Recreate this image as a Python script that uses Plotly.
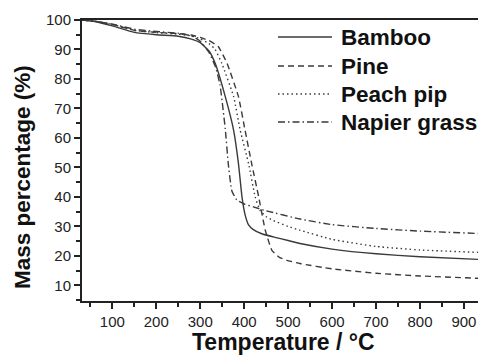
import plotly.graph_objects as go

# Temperature (°C) / Mass percentage (%)
bamboo_T = [30, 60, 100, 150, 200, 250, 280, 300, 320, 334, 357, 376, 387, 395, 402, 410, 420, 440, 470, 500, 530, 600, 700, 800, 932]
bamboo_m = [100, 99.5, 98, 95.8, 95, 94.5, 93.5, 92.3, 89.5, 85.3, 74, 62.6, 51.3, 40, 34, 30.5, 29, 27.5, 26.3, 25.2, 24.1, 22.3, 20.7, 19.7, 18.8]

pine_T = [30, 60, 100, 150, 200, 250, 280, 300, 320, 341, 361, 387, 402, 417, 433, 448, 463, 480, 497, 527, 600, 700, 800, 932]
pine_m = [100, 99.6, 98.5, 96.5, 95.8, 95.4, 94.9, 94.1, 93, 91, 85.3, 74, 62.6, 51.3, 40, 28.7, 21.9, 19.5, 18.5, 17.4, 15.6, 14.1, 13.2, 12.4]

peach_T = [30, 60, 100, 150, 200, 250, 280, 300, 320, 334, 349, 376, 391, 410, 425, 436, 450, 466, 500, 527, 600, 700, 800, 932]
peach_m = [100, 99.6, 98.5, 96.5, 95.7, 95.2, 94.6, 93.6, 92, 90, 85.3, 74, 62.6, 51.3, 40, 35.5, 33.3, 32, 30, 28.7, 25.6, 23.2, 22, 21.2]

napier_T = [30, 60, 100, 150, 200, 250, 280, 300, 320, 335, 345, 357, 364, 372, 383, 400, 421, 450, 527, 600, 700, 800, 932]
napier_m = [100, 99.6, 98.6, 96.9, 96.1, 95.5, 94.6, 92.8, 89, 84, 78, 63, 51, 42, 39, 37.6, 36.6, 35.3, 32.5, 30.6, 29.3, 28.4, 27.6]

names = ["Bamboo", "Pine", "Peach pip", "Napier grass"]
dashes = ["solid", "6px,4px", "1.5px,3px", "7px,3px,1.5px,3px"]
series = [(bamboo_T, bamboo_m), (pine_T, pine_m), (peach_T, peach_m), (napier_T, napier_m)]

x_ticks = [100, 200, 300, 400, 500, 600, 700, 800, 900]
y_ticks = [10, 20, 30, 40, 50, 60, 70, 80, 90, 100]

LINE_COLOR = "#3a3a3a"
FONT = "Liberation Sans, Arial, sans-serif"

fig = go.Figure()
for (t, m), name, d in zip(series, names, dashes):
    fig.add_trace(go.Scatter(x=t, y=m, mode="lines", name=name,
                             line=dict(color=LINE_COLOR, width=1.4, dash=d, shape="spline", smoothing=0.4),
                             showlegend=False))

# manual legend (pixel helpers for paper coordinates)
L, T_, H = 82, 20, 281
W = 396
def px(x):
    return (x - L) / W
def py(y):
    return (T_ + H - y) / H

leg_y = [37, 66, 94, 122]
for name, d, yy in zip(names, dashes, leg_y):
    fig.add_shape(type="line", xref="paper", yref="paper",
                  x0=px(278), x1=px(332), y0=py(yy), y1=py(yy),
                  line=dict(color=LINE_COLOR, width=1.4, dash=d))
    fig.add_annotation(text="<b>%s</b>" % name, xref="paper", yref="paper",
                       x=px(339), y=py(yy), xanchor="left", yanchor="middle",
                       showarrow=False, font=dict(family=FONT, size=22.5, color="#111"))

fig.add_annotation(text="<b>Temperature / °C</b>", xref="paper", yref="paper",
                   x=px(283), y=py(342), xanchor="center", yanchor="middle",
                   showarrow=False, font=dict(family=FONT, size=23, color="#111"))
fig.add_annotation(text="<b>Mass percentage (%)</b>", xref="paper", yref="paper",
                   x=px(22), y=py(177), xanchor="center", yanchor="middle", textangle=-90,
                   showarrow=False, font=dict(family=FONT, size=22.5, color="#111"))

fig.update_layout(
    width=478, height=356,
    margin=dict(l=82, r=0, t=20, b=55),
    paper_bgcolor="white", plot_bgcolor="white",
    font=dict(family=FONT, size=15, color="#222"),
    xaxis=dict(range=[31, 932], tickvals=x_ticks, showgrid=False, zeroline=False,
               showline=True, linecolor="#222", linewidth=2, mirror=True,
               ticks="outside", ticklen=6, tickwidth=1.5, tickcolor="#222",
               minor=dict(dtick=50, tick0=50, ticks="outside", ticklen=4, tickwidth=1.5, tickcolor="#222", showgrid=False)),
    yaxis=dict(range=[4.7, 100], tickvals=y_ticks, showgrid=False, zeroline=False,
               showline=True, linecolor="#222", linewidth=2,
               ticks="outside", ticklen=6, tickwidth=1.5, tickcolor="#222",
               minor=dict(dtick=5, tick0=5, ticks="outside", ticklen=4, tickwidth=1.5, tickcolor="#222", showgrid=False)),
)

fig.write_html("out.html")
